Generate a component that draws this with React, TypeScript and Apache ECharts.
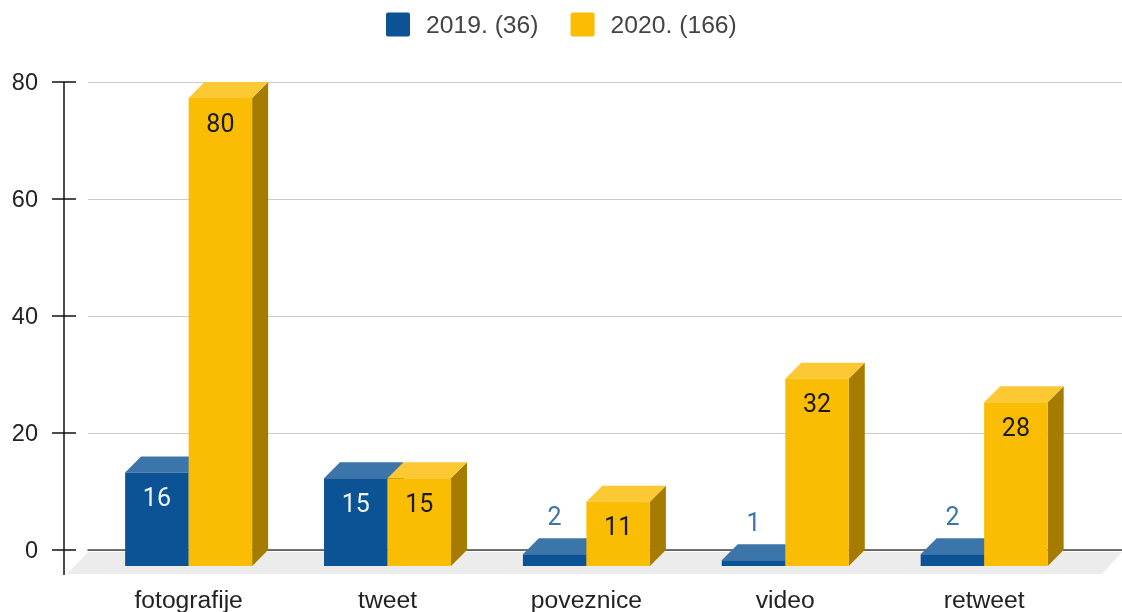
import React, { useEffect, useRef } from "react";
import * as echarts from "echarts";

const categories = ["fotografije", "tweet", "poveznice", "video", "retweet"];
const seriesNames = ["2019. (36)", "2020. (166)"];
const values2019 = [16, 15, 2, 1, 2];
const values2020 = [80, 15, 11, 32, 28];
const yMax = 80;
const yStep = 20;
const yTicks = [0, 20, 40, 60, 80];

const BLUE = { front: "#0b5394", top: "#3c75a9", side: "#07325a", label: "#eef3f8", outside: "#3c75a9" };
const YELLOW = { front: "#fbbc04", top: "#fcc934", side: "#a57c00", label: "#1a1a1a", outside: "#a57c00" };
const BAR_W = 63.5;
const DEPTH = 16;
const LABEL_FONT = "25px Roboto";
const AXIS_FONT = "Liberation Sans";
const LEGEND_ICON = "path://M2 0H22Q24 0 24 2V22Q24 24 22 24H2Q0 24 0 22V2Q0 0 2 0Z";

function barRenderer(palette: typeof BLUE, side: -1 | 1) {
  return (_params: any, api: any) => {
    const cat = api.value(0);
    const val = api.value(1);
    const [cx, yTop] = api.coord([cat, val]);
    const [, yZero] = api.coord([cat, 0]);
    const x0 = side < 0 ? cx - BAR_W : cx;
    const x1 = x0 + BAR_W;
    const frontTop = yTop + DEPTH;
    const frontBase = yZero + DEPTH;
    const inside = frontBase - frontTop > 40;
    return {
      type: "group",
      children: [
        {
          type: "polygon",
          shape: { points: [[x1, frontTop], [x1 + DEPTH, yTop], [x1 + DEPTH, yZero], [x1, frontBase]] },
          style: { fill: palette.side },
        },
        {
          type: "polygon",
          shape: { points: [[x0, frontTop], [x0 + DEPTH, yTop], [x1 + DEPTH, yTop], [x1, frontTop]] },
          style: { fill: palette.top },
        },
        {
          type: "rect",
          shape: { x: x0, y: frontTop, width: BAR_W, height: frontBase - frontTop },
          style: { fill: palette.front },
        },
        {
          type: "text",
          style: {
            text: String(val),
            x: (x0 + x1) / 2,
            y: inside ? frontTop + 25 : frontTop - 38,
            textAlign: "center",
            textVerticalAlign: "middle",
            fill: inside ? palette.label : palette.outside,
            font: LABEL_FONT,
          },
        },
      ],
    };
  };
}

function frameRenderer(params: any, api: any) {
  const r = params.coordSys;
  const yZero = r.y + r.height;
  const axisX = r.x - 24;
  const black = { stroke: "#111111", lineWidth: 1.5 };
  const children: any[] = [
    {
      type: "polygon",
      shape: {
        points: [
          [r.x, yZero + 2],
          [r.x + r.width, yZero + 2],
          [r.x + r.width - 20, yZero + 24],
          [r.x - 21, yZero + 24],
        ],
      },
      style: { fill: "#ececec" },
    },
    {
      type: "line",
      shape: { x1: axisX, y1: r.y, x2: axisX, y2: yZero + 25 },
      style: black,
    },
  ];
  yTicks.forEach((t) => {
    const y = api.coord([0, t])[1];
    children.push({
      type: "line",
      shape: { x1: axisX - 12, y1: y, x2: axisX + 12, y2: y },
      style: black,
    });
  });
  return { type: "group", children };
}

export default function App() {
  const ref = useRef<HTMLDivElement>(null);
  useEffect(() => {
    document.body.style.margin = "0";
    const chart = echarts.init(ref.current!, undefined, { renderer: "svg" });
    chart.setOption({
      animation: false,
      backgroundColor: "#ffffff",
      legend: {
        left: 386,
        top: 12,
        padding: 0,
        itemWidth: 24,
        itemHeight: 24,
        itemGap: 32,
        icon: LEGEND_ICON,
        selectedMode: false,
        data: seriesNames,
        textStyle: {
          fontFamily: AXIS_FONT,
          fontSize: 24.7,
          color: "#444444",
          padding: [0, 0, 0, 11],
        },
      },
      grid: [
        { left: 88, right: 0, top: 82, bottom: 62 },
        { left: 89.2, right: 38.4, top: 82, bottom: 62 },
      ],
      xAxis: [
        {
          type: "category",
          gridIndex: 0,
          data: categories,
          axisTick: { show: false },
          axisLabel: { show: false },
          axisLine: { show: true, lineStyle: { color: "#444444", width: 1.5 } },
          splitLine: { show: false },
        },
        {
          type: "category",
          gridIndex: 1,
          data: categories,
          axisTick: { show: false },
          axisLine: { show: false },
          splitLine: { show: false },
          axisLabel: {
            margin: 37,
            fontFamily: AXIS_FONT,
            fontSize: 24.7,
            color: "#222222",
            interval: 0,
          },
        },
      ],
      yAxis: [
        {
          type: "value",
          gridIndex: 0,
          min: 0,
          max: yMax,
          interval: yStep,
          axisLine: { show: false },
          axisTick: { show: false },
          axisLabel: {
            margin: 50,
            fontFamily: AXIS_FONT,
            fontSize: 23.5,
            color: "#222222",
          },
          splitLine: { show: true, lineStyle: { color: "#cccccc", width: 1 } },
        },
        {
          type: "value",
          gridIndex: 1,
          min: 0,
          max: yMax,
          interval: yStep,
          axisLine: { show: false },
          axisTick: { show: false },
          axisLabel: { show: false },
          splitLine: { show: false },
        },
      ],
      series: [
        {
          type: "custom",
          name: "frame",
          xAxisIndex: 0,
          yAxisIndex: 0,
          data: [[0, 0]],
          encode: { x: 0, y: 1 },
          renderItem: frameRenderer,
          silent: true,
          z: 1,
        },
        {
          type: "custom",
          name: seriesNames[0],
          xAxisIndex: 1,
          yAxisIndex: 1,
          itemStyle: { color: BLUE.front },
          data: values2019.map((v, i) => [i, v]),
          encode: { x: 0, y: 1 },
          renderItem: barRenderer(BLUE, -1),
          z: 3,
        },
        {
          type: "custom",
          name: seriesNames[1],
          xAxisIndex: 1,
          yAxisIndex: 1,
          itemStyle: { color: YELLOW.front },
          data: values2020.map((v, i) => [i, v]),
          encode: { x: 0, y: 1 },
          renderItem: barRenderer(YELLOW, 1),
          z: 4,
        },
      ],
    });
    return () => chart.dispose();
  }, []);
  return <div ref={ref} style={{ width: 1122, height: 612, filter: "blur(0.4px)" }} />;
}
